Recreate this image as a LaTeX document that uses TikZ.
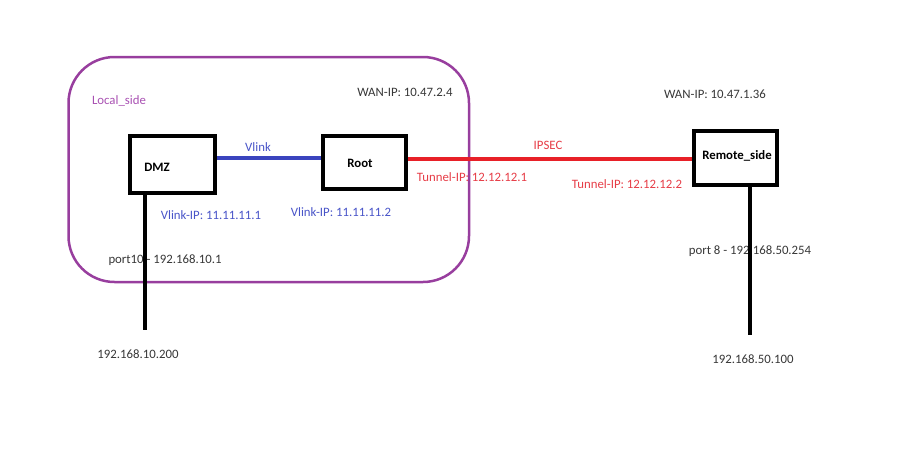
\documentclass[tikz,border=0pt]{standalone}
\usepackage{fontspec}
\setmainfont{Carlito}
\usetikzlibrary{calc}
\definecolor{grp}{RGB}{152,62,158}
\definecolor{grptext}{RGB}{168,80,178}
\definecolor{vblue}{RGB}{58,68,190}
\definecolor{vbluetext}{RGB}{72,84,200}
\definecolor{tred}{RGB}{232,32,40}
\definecolor{tredtext}{RGB}{230,60,70}
\definecolor{greytext}{RGB}{55,55,55}
\tikzset{
  devbox/.style={draw=black, line width=4pt, fill=white, inner sep=0pt},
  lbl/.style={font=\fontsize{12.8}{14}\selectfont, text=greytext, inner sep=0pt, anchor=center},
  boldlbl/.style={font=\fontsize{12.8}{14}\selectfont\bfseries, text=black, inner sep=0pt, anchor=center},
  bluelbl/.style={lbl, text=vbluetext},
  redlbl/.style={lbl, text=tredtext},
  grplbl/.style={lbl, text=grptext},
  wire/.style={line width=4pt, black},
  vlinkwire/.style={line width=4pt, vblue},
  ipsecwire/.style={line width=4pt, tred},
  groupbox/.style={draw=grp, line width=2.5pt, rounded corners=46pt}
}
\begin{document}
\begin{tikzpicture}[x=1pt,y=-1pt]
\useasboundingbox (0,0) rectangle (899,472);
% group outline
\draw[groupbox] (68.5,57) rectangle (469,282);
% boxes
\node[devbox, minimum width=85pt, minimum height=57pt] (dmz) at (172.5,164) {};
\node[devbox, minimum width=83pt, minimum height=53pt] (root) at (364.5,162.5) {};
\node[devbox, minimum width=83pt, minimum height=54pt] (remote) at (735.5,158) {};
% box texts
\node[boldlbl] (dmztext) at (157,167) {DMZ};
\node[boldlbl] (roottext) at (360,163) {Root};
\node[boldlbl] (remotetext) at (737,156) {Remote\_side};
% labels
\node[grplbl] (localside) at (119,101) {Local\_side};
\node[lbl] (wan1) at (405,92) {WAN-IP: 10.47.2.4};
\node[lbl] (wan2) at (715,94) {WAN-IP: 10.47.1.36};
\node[bluelbl] (vlinklbl) at (258,147) {Vlink};
\node[bluelbl] (vip1) at (211,215) {Vlink-IP: 11.11.11.1};
\node[bluelbl] (vip2) at (341,212) {Vlink-IP: 11.11.11.2};
\node[redlbl] (ipseclbl) at (548,145) {IPSEC};
\node[redlbl] (tip1) at (472,177) {Tunnel-IP: 12.12.12.1};
\node[redlbl] (tip2) at (627,184) {Tunnel-IP: 12.12.12.2};
\node[lbl] (port10) at (165,260) {port10 - 192.168.10.1};
\node[lbl] (port8) at (750,251) {port 8 - 192.168.50.254};
\node[lbl] (host1) at (138,354) {192.168.10.200};
\node[lbl] (host2) at (753,359) {192.168.50.100};
% connectors
\coordinate (dmzend) at (145,330);
\coordinate (remoteend) at (750,335);
\draw[vlinkwire] ([yshift=6pt]dmz.east) -- ([yshift=4.5pt]root.west);
\draw[ipsecwire] ([yshift=3.5pt]root.east) -- ([yshift=3.5pt]root.east -| remote.west);
\draw[wire] ([xshift=-27.5pt]dmz.south) -- (dmzend);
\draw[wire] ([xshift=14.5pt]remote.south) -- (remoteend);
\end{tikzpicture}
\end{document}
